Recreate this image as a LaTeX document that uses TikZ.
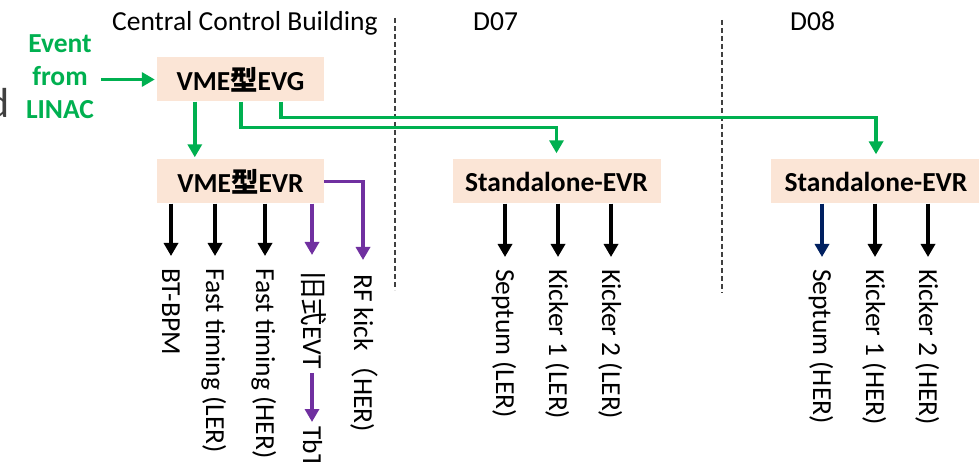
\documentclass[tikz,border=0pt]{standalone}
\usepackage{fontspec}
\setmainfont{Carlito}
\newfontfamily\cjk{Noto Sans CJK JP}
\usetikzlibrary{arrows.meta}
\definecolor{gr}{HTML}{00B050}
\definecolor{pu}{HTML}{7030A0}
\definecolor{nv}{HTML}{002060}
\definecolor{peach}{HTML}{FBE5D6}
\definecolor{dk}{HTML}{404040}
\begin{document}
\begin{tikzpicture}[x=1pt,y=-1pt,
  font=\fontsize{27.5}{33}\selectfont,
  box/.style={fill=peach, inner sep=0pt, minimum height=44pt, font=\fontsize{27.5}{33}\selectfont\bfseries},
  lab/.style={rotate=-90, anchor=west, inner sep=0pt, text height=17.7pt, text depth=0pt},
  arr/.style={line width=3.6pt, -{Triangle[width=14pt,length=13pt]}},
  karr/.style={arr, black, shorten >=12pt},
  garr/.style={arr, gr},
  parr/.style={arr, pu},
  sep/.style={dk, line width=1.1pt, dash pattern=on 5pt off 3pt},
  ttl/.style={anchor=base west, inner sep=0pt}
]
\useasboundingbox (0,0) rectangle (979,462);
\clip (0,0) rectangle (979,462);

% titles
\node[ttl] (ccb) at (112,31) {Central Control Building};
\node[ttl] (d07) at (473,31) {D07};
\node[ttl] (d08) at (790,31) {D08};
\node[anchor=base east, inner sep=0pt, text=dk, font=\fontsize{42}{50}\selectfont] (dd) at (10,118) {d};

% dashed separators
\coordinate (s1t) at (395,18); \coordinate (s1b) at (395,290);
\coordinate (s2t) at (722,20); \coordinate (s2b) at (722,293);
\draw[sep] (s1t) -- (s1b);
\draw[sep] (s2t) -- (s2b);

% boxes
\node[box, minimum width=167pt] (evg) at (240.5,79.5) {VME{\cjk 型}EVG};
\node[box, minimum width=167pt] (evr) at (240.5,181.5) {VME{\cjk 型}EVR};
\node[box, minimum width=208pt] (sa1) at (556.5,181.5) {Standalone-EVR};
\node[box, minimum width=210pt] (sa2) at (876,181.5) {Standalone-EVR};

% event source
\node[align=center, text=gr, inner sep=0pt, font=\fontsize{27.5}{33}\selectfont\bfseries] (event) at (60,77) {Event\\from\\LINAC};

% green connections
\draw[garr, shorten <=7pt, shorten >=2pt] (event.east |- evg.west) -- (evg.west);
\draw[garr, shorten >=2pt] ([xshift=38pt]evg.south west) -- ([xshift=38pt]evr.north west);
\draw[garr, shorten >=6pt] ([xshift=84pt]evg.south west) -- ++(0,26) -| (sa1.north);
\draw[garr, shorten >=5pt] ([xshift=124pt]evg.south west) -- ++(0,16) -| (sa2.north);

% labels under VME EVR
\node[lab] (bpm) at (171,268) {BT-BPM};
\node[lab] (ftl) at (215,268) {Fast timing (LER)};
\node[lab] (fth) at (265,268) {Fast timing (HER)};
\node[lab] (evt) at (312,271) {{\cjk 旧式}EVT};
\node[lab] (tbt) at (312,426) {TbT};
\node[lab] (rf)  at (363,274) {RF kick{\cjk （}HER)};

\draw[karr] (evr.south -| bpm.west) -- (bpm.west);
\draw[karr] (evr.south -| ftl.west) -- (ftl.west);
\draw[karr] (evr.south -| fth.west) -- (fth.west);
\draw[parr, shorten >=16pt] (evr.south -| evt.west) -- (evt.west);
\draw[parr, shorten <=4pt, shorten >=4pt] (evt.east) -- (tbt.west);
\draw[parr, shorten >=14pt] (evr.east) -| (rf.west);

% labels under D07
\node[lab] (s1) at (505,269) {Septum (LER)};
\node[lab] (k11) at (558,269) {Kicker 1 (LER)};
\node[lab] (k12) at (611,269) {Kicker 2 (LER)};
\draw[karr] (sa1.south -| s1.west) -- (s1.west);
\draw[karr] (sa1.south -| k11.west) -- (k11.west);
\draw[karr] (sa1.south -| k12.west) -- (k12.west);

% labels under D08
\node[lab] (s2) at (822,269) {Septum (HER)};
\node[lab] (k21) at (875,269) {Kicker 1 (HER)};
\node[lab] (k22) at (928,269) {Kicker 2 (HER)};
\draw[karr, nv] (sa2.south -| s2.west) -- (s2.west);
\draw[karr] (sa2.south -| k21.west) -- (k21.west);
\draw[karr] (sa2.south -| k22.west) -- (k22.west);
\end{tikzpicture}
\end{document}
